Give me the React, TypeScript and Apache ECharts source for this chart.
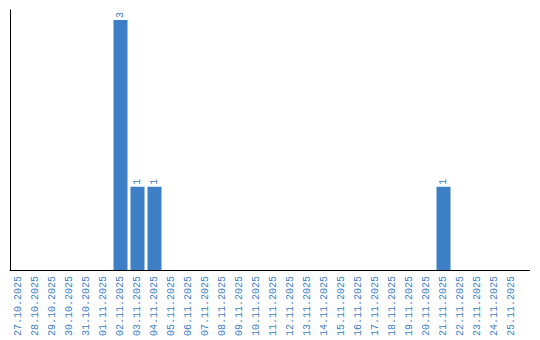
import React, { useEffect, useRef } from "react";
import * as echarts from "echarts";

const categories = [
  "27.10.2025", "28.10.2025", "29.10.2025", "30.10.2025", "31.10.2025",
  "01.11.2025", "02.11.2025", "03.11.2025", "04.11.2025", "05.11.2025",
  "06.11.2025", "07.11.2025", "08.11.2025", "09.11.2025", "10.11.2025",
  "11.11.2025", "12.11.2025", "13.11.2025", "14.11.2025", "15.11.2025",
  "16.11.2025", "17.11.2025", "18.11.2025", "19.11.2025", "20.11.2025",
  "21.11.2025", "22.11.2025", "23.11.2025", "24.11.2025", "25.11.2025",
];
const values = [
  0, 0, 0, 0, 0,
  0, 3, 1, 1, 0,
  0, 0, 0, 0, 0,
  0, 0, 0, 0, 0,
  0, 0, 0, 0, 0,
  1, 0, 0, 0, 0,
];

const BLUE = "#3c7fc4";
const FONT = "Liberation Mono";

export default function App() {
  const ref = useRef<HTMLDivElement>(null);
  useEffect(() => {
    const chart = echarts.init(ref.current!, null, { renderer: "svg" });
    chart.setOption({
      animation: false,
      grid: { left: 10, top: 10, width: 510, bottom: 70, containLabel: false },
      xAxis: {
        type: "category",
        data: categories,
        axisLine: { show: true, lineStyle: { color: "#000", width: 1 } },
        axisTick: { show: false },
        axisLabel: {
          rotate: 90,
          interval: 0,
          color: BLUE,
          fontFamily: FONT,
          fontSize: 10,
          margin: 6,
        },
      },
      yAxis: {
        type: "value",
        min: 0,
        max: 3.12,
        axisLine: { show: true, lineStyle: { color: "#000", width: 1 } },
        axisTick: { show: false },
        axisLabel: { show: false },
        splitLine: { show: false },
      },
      graphic: [
        {
          type: "line",
          shape: { x1: 520, y1: 270.5, x2: 530, y2: 270.5 },
          style: { stroke: "#000", lineWidth: 1 },
        },
      ],
      series: [
        {
          type: "bar",
          data: values.map((v) => (v === 0 ? null : v)),
          barWidth: 14,
          itemStyle: { color: BLUE },
          label: {
            show: true,
            position: "top",
            rotate: 90,
            align: "left",
            verticalAlign: "middle",
            distance: 2,
            color: BLUE,
            fontFamily: FONT,
            fontSize: 10,
          },
        },
      ],
    });
    return () => chart.dispose();
  }, []);
  return <div ref={ref} style={{ width: 540, height: 340, position: "absolute", left: 0, top: 0 }} />;
}
